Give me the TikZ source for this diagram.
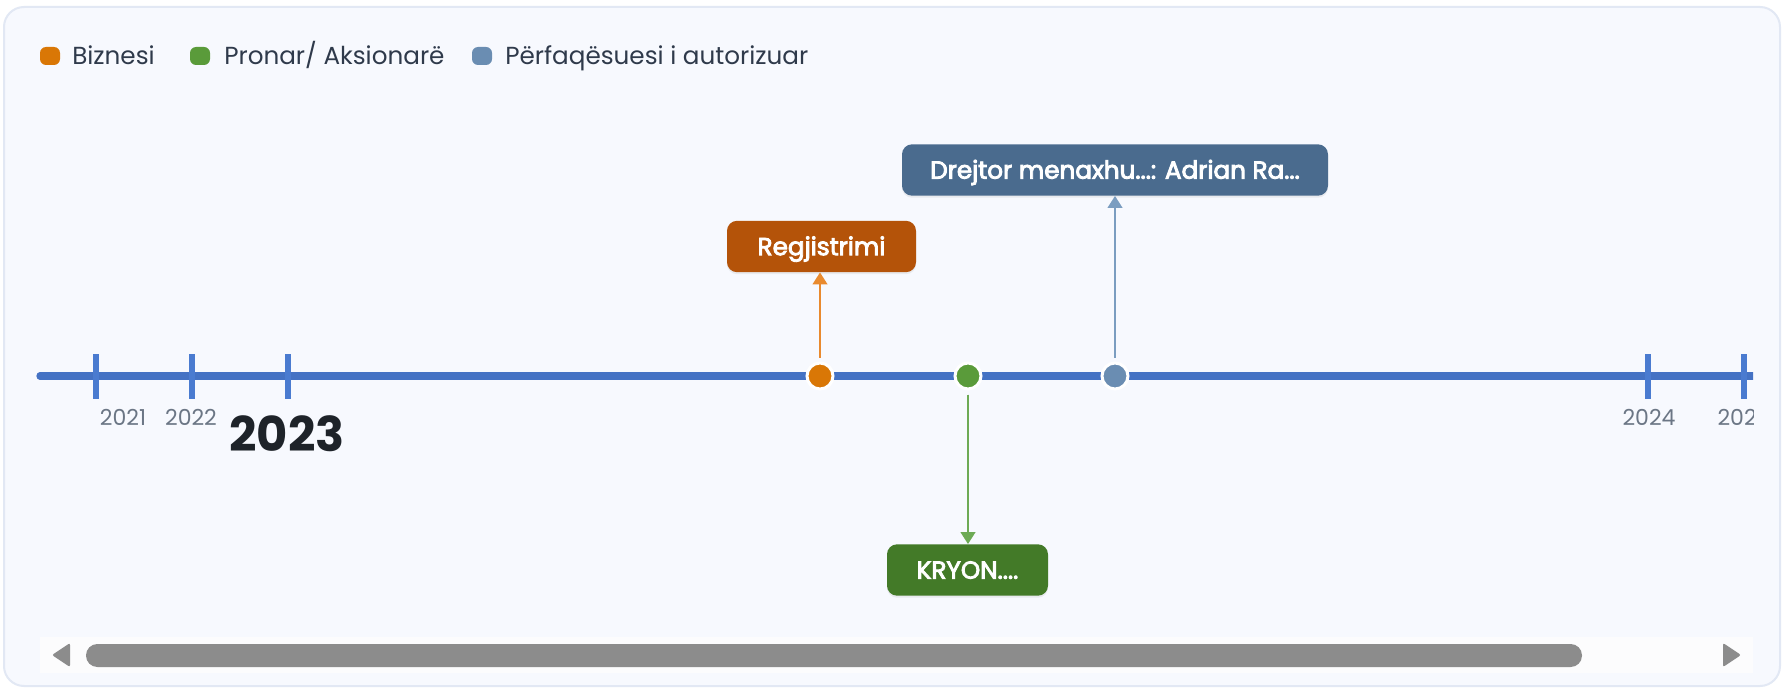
\documentclass[tikz,border=0pt]{standalone}
\usepackage{fontspec}
\setmainfont{Poppins}
\newfontfamily\boxfont{Poppins}[FakeBold=3.5]
\usetikzlibrary{arrows.meta,shadows}
\definecolor{cardbg}{HTML}{F7F9FE}
\definecolor{cardborder}{HTML}{E2E8F4}
\definecolor{axis}{HTML}{4472C4}
\definecolor{tickc}{HTML}{4A7BD0}
\definecolor{legtext}{HTML}{2F3A4B}
\definecolor{yeargray}{HTML}{6B7685}
\definecolor{yearbold}{HTML}{1E2329}
\definecolor{orDot}{HTML}{D97706}
\definecolor{orBox}{HTML}{B45309}
\definecolor{orArr}{HTML}{E98A2E}
\definecolor{grDot}{HTML}{5A9B3A}
\definecolor{grBox}{HTML}{437A28}
\definecolor{grArr}{HTML}{6DAA55}
\definecolor{blDot}{HTML}{6A8DB2}
\definecolor{blBox}{HTML}{4A6B8E}
\definecolor{blArr}{HTML}{7B9DC0}
\definecolor{thumbc}{HTML}{8C8C8C}
\definecolor{trackc}{HTML}{FCFCFD}
\tikzset{
  legdot/.style={rectangle, rounded corners=4.5pt, minimum width=15pt, minimum height=13.5pt, inner sep=0pt},
  legtxt/.style={anchor=base west, inner sep=0pt, text=legtext, font=\fontsize{18.5pt}{21pt}\selectfont},
  yearlbl/.style={anchor=base, inner sep=0pt, text=yeargray, font=\fontsize{16.5pt}{19pt}\selectfont},
  tickmark/.style={draw=tickc, line width=4.5pt},
  evdot/.style={circle, draw=white, line width=2.25pt, minimum size=19.5pt, inner sep=0pt},
  evbox/.style={rectangle, rounded corners=7.5pt, text=white, inner sep=0pt,
    font=\boxfont\fontsize{18.5pt}{21pt}\selectfont, text height=13pt, text depth=0pt,
    minimum height=38.5pt, drop shadow={opacity=0.12, shadow xshift=0pt, shadow yshift=-1.5pt}},
  evarrow/.style={line width=1.6pt, -{Triangle[length=9pt, width=11pt]}, shorten <=3pt},
}
\begin{document}
\begin{tikzpicture}[x=0.75pt, y=-0.75pt]
\useasboundingbox (0,0) rectangle (1782,688);
\fill[white] (0,0) rectangle (1782,688);
\draw[fill=cardbg, draw=cardborder, line width=1.5pt, rounded corners=15pt] (4,7) rectangle (1780,686);

% legend
\node[legdot, fill=orDot] (l1) at (50,56) {};
\node[legtxt] (t1) at (72,65) {Biznesi};
\node[legdot, fill=grDot] (l2) at (200,56) {};
\node[legtxt] (t2) at (224,65) {Pronar/ Aksionarë};
\node[legdot, fill=blDot] (l3) at (482,56) {};
\node[legtxt] (t3) at (505,65) {Përfaqësuesi i autorizuar};

\begin{scope}
\clip (30,90) rectangle (1753,630);
\draw[draw=axis, line width=5.5pt, line cap=round] (40,376) -- (1770,376);
\foreach \x in {96,192,288,1648,1744} \draw[tickmark] (\x,354) -- (\x,399);
\node[yearlbl] (y21) at (123,425) {2021};
\node[yearlbl] (y22) at (191,425) {2022};
\node[yearlbl] (y24) at (1649,425) {2024};
\node[yearlbl] (y25) at (1744,425) {2025};
\node[anchor=base, inner sep=0pt, text=yearbold, font=\fontsize{36pt}{40pt}\selectfont\bfseries] (y23) at (287,451) {2023};

% events
\node[evdot, fill=orDot] (d1) at (820,376) {};
\node[evdot, fill=grDot] (d2) at (968,376) {};
\node[evdot, fill=blDot] (d3) at (1115,376) {};

\node[evbox, fill=orBox, minimum width=141.75pt] (b1) at (821.5,246.5) {Regjistrimi};
\node[evbox, fill=blBox, minimum width=319.5pt] (b2) at (1115,170) {Drejtor menaxhu...: Adrian Ra...};
\node[evbox, fill=grBox, minimum width=120.75pt] (b3) at (967.5,570) {KRYON....};

\draw[evarrow, draw=orArr, fill=orArr] (d1) -- (d1 |- b1.south);
\draw[evarrow, draw=blArr, fill=blArr] (d3) -- (d3 |- b2.south);
\draw[evarrow, draw=grArr, fill=grArr] (d2) -- (d2 |- b3.north);
\end{scope}

% scrollbar
\fill[trackc] (40,637) rectangle (1753,673);
\fill[thumbc, rounded corners=8.5pt] (86,644) rectangle (1582,667);
\fill[thumbc, rounded corners=1.5pt] (52,655) -- (70,643) -- (70,667) -- cycle;
\fill[thumbc, rounded corners=1.5pt] (1741,655) -- (1723,643) -- (1723,667) -- cycle;
\end{tikzpicture}
\end{document}
